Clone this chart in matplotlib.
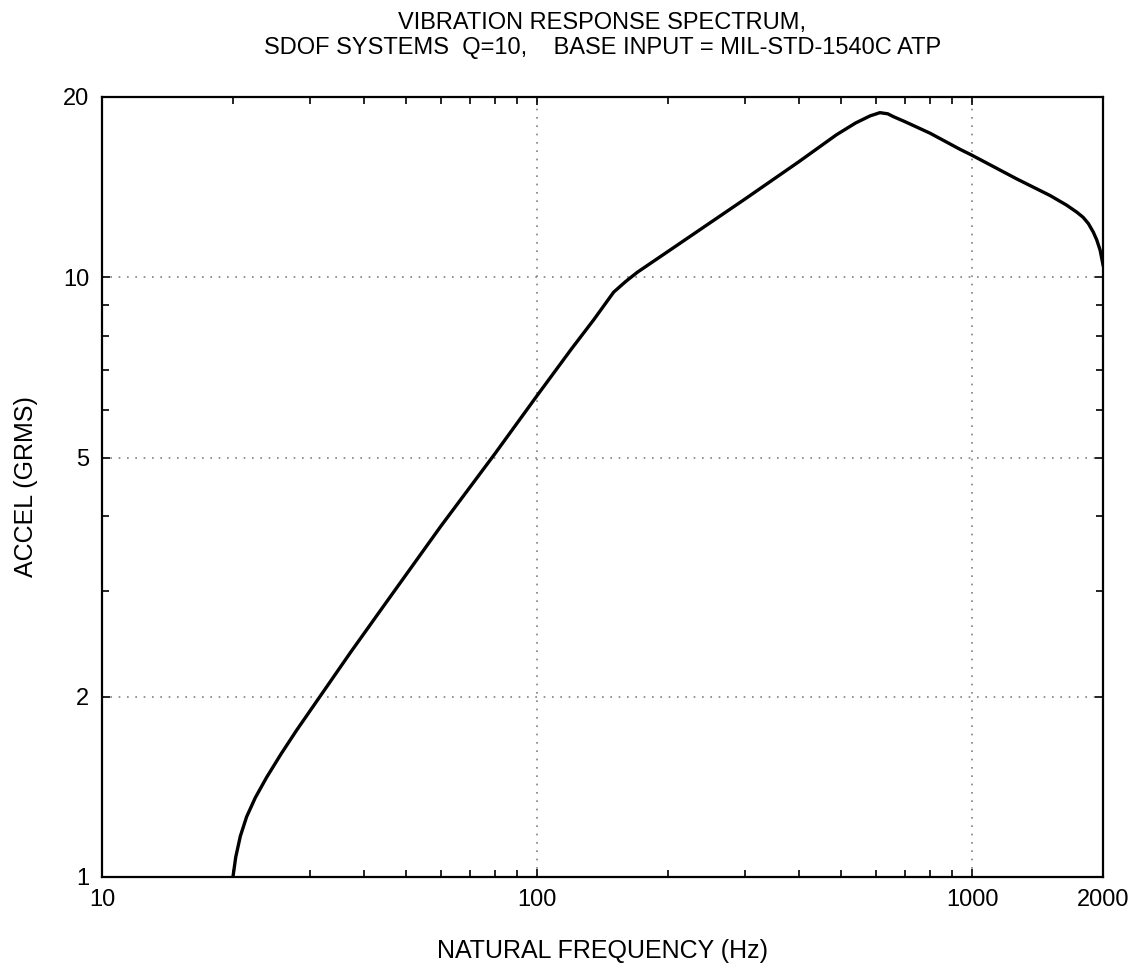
import matplotlib
matplotlib.use("Agg")
import matplotlib.pyplot as plt
from matplotlib.ticker import FixedLocator, FixedFormatter, LogLocator, NullFormatter

plt.rcParams['font.family'] = ['Liberation Sans', 'DejaVu Sans']

# natural frequency (Hz) and response (GRMS)
freq = [20, 20.3, 20.8, 21.5, 22.5, 23.9, 25.8, 28.0, 31.7, 37.2, 45, 60,
        80, 100, 120, 135, 150, 160, 170, 200, 300, 400, 488, 540, 583, 614,
        640, 659, 700, 801, 938, 998, 1267, 1511, 1650, 1741, 1800, 1851,
        1900, 1935, 1970, 2000]
accel = [1.0, 1.08, 1.17, 1.26, 1.355, 1.466, 1.604, 1.756, 2.0, 2.365, 2.87,
         3.84, 5.08, 6.35, 7.6, 8.5, 9.45, 9.85, 10.2, 11.05, 13.5, 15.6,
         17.3, 18.1, 18.6, 18.83, 18.75, 18.55, 18.2, 17.4, 16.36, 16.0, 14.6,
         13.7, 13.2, 12.85, 12.6, 12.3, 11.9, 11.55, 11.1, 10.5]

xticks = [10, 100, 1000, 2000]
xlabels = ["10", "100", "1000", "2000"]
yticks = [1, 2, 5, 10, 20]
ylabels = ["1", "2", "5", "10", "20"]

fig = plt.figure(figsize=(11.37, 9.65), dpi=100)
ax = fig.add_axes([0.0897, 0.0912, 0.8804, 0.8083])

ax.plot(freq, accel, color="black", linewidth=2.4)
ax.set_xscale("log")
ax.set_yscale("log")
ax.set_xlim(10, 2000)
ax.set_ylim(1, 20)

ax.xaxis.set_major_locator(FixedLocator(xticks))
ax.xaxis.set_major_formatter(FixedFormatter(xlabels))
ax.xaxis.set_minor_locator(LogLocator(base=10, subs=range(2, 10)))
ax.xaxis.set_minor_formatter(NullFormatter())
ax.yaxis.set_major_locator(FixedLocator(yticks))
ax.yaxis.set_major_formatter(FixedFormatter(ylabels))
ax.yaxis.set_minor_locator(LogLocator(base=10, subs=range(2, 10)))
ax.yaxis.set_minor_formatter(NullFormatter())

ax.tick_params(which="both", direction="in", top=True, right=True,
               width=1.2, color="black")
ax.tick_params(which="major", length=6, labelsize=17, pad=9)
ax.tick_params(which="minor", length=5)

for s in ax.spines.values():
    s.set_linewidth(1.6)

# dotted grid only at interior labelled ticks
for xv in [100, 1000]:
    ax.axvline(xv, color="gray", linestyle=(0, (1, 4)), linewidth=1.2, zorder=0)
for yv in [2, 5, 10]:
    ax.axhline(yv, color="gray", linestyle=(0, (1, 4)), linewidth=1.2, zorder=0)

ax.set_xlabel("NATURAL FREQUENCY (Hz)", fontsize=18, labelpad=20)
ax.set_ylabel("ACCEL (GRMS)", fontsize=18, labelpad=18)
ax.set_title("VIBRATION RESPONSE SPECTRUM,\nSDOF SYSTEMS  Q=10,    BASE INPUT = MIL-STD-1540C ATP",
             fontsize=17, pad=31, linespacing=1.15)

fig.savefig("out.png", dpi=100)
